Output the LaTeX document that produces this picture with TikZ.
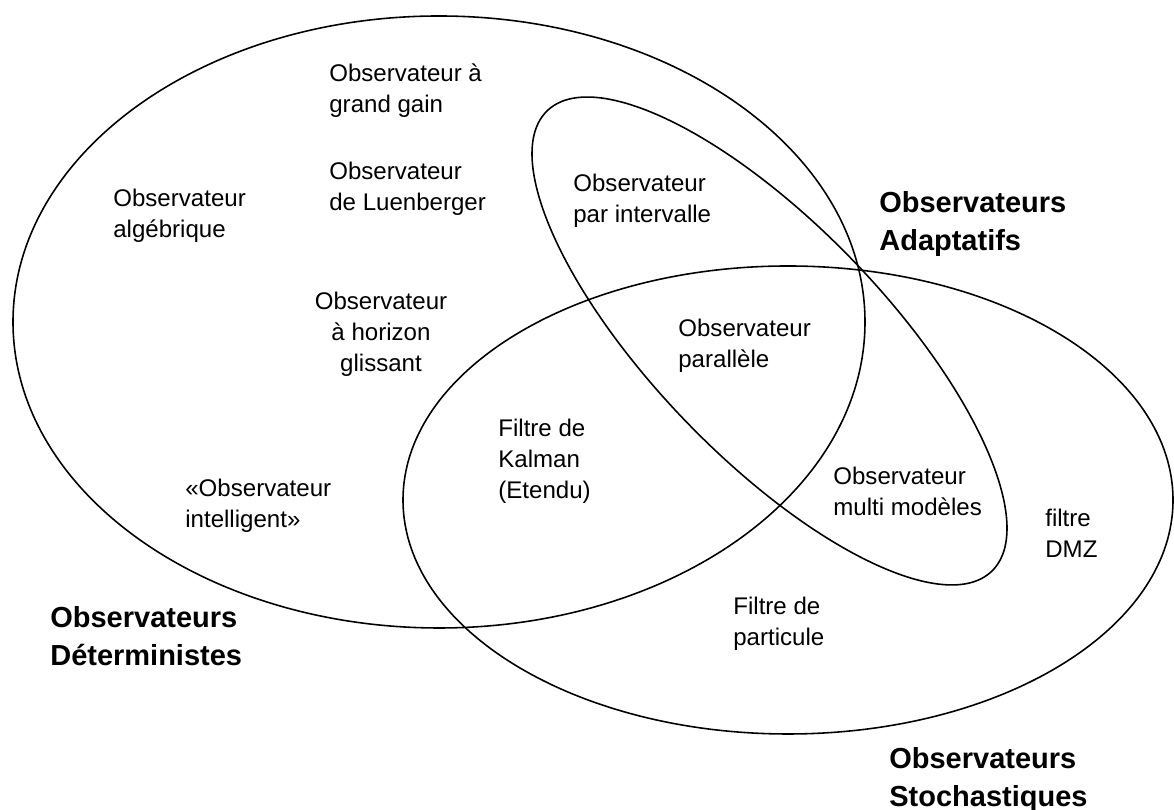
\documentclass[tikz,border=0pt]{standalone}
\usepackage{fontspec}
\setmainfont{Liberation Sans}
\newcommand{\lblL}[1]{\begin{tabular}[t]{@{}l@{}}#1\end{tabular}}
\newcommand{\lblC}[1]{\begin{tabular}[t]{@{}c@{}}#1\end{tabular}}
\begin{document}
\begin{tikzpicture}[x=0.02cm,y=0.02cm,
  venn/.style={draw=black, line width=0.9pt},
  lab/.style={anchor=base west, inner sep=0pt, font=\fontsize{13.7pt}{17.6pt}\selectfont},
  labc/.style={anchor=base, inner sep=0pt, font=\fontsize{13.7pt}{17.6pt}\selectfont},
  ttl/.style={anchor=base west, inner sep=0pt, font=\bfseries\fontsize{16.5pt}{21.6pt}\selectfont}]
\useasboundingbox (0,0) rectangle (1174,810);
% ellipses
\draw[venn] (439,488) ellipse [x radius=426, y radius=306];
\draw[venn] (788,310) ellipse [x radius=385, y radius=234];
\draw[venn, rotate around={-46:(769.5,469)}] (769.5,469) ellipse [x radius=320, y radius=116];
% labels
\node[lab] (gg) at (329,728) {\lblL{Observateur à\\grand gain}};
\node[lab] (lu) at (329,630) {\lblL{Observateur\\de Luenberger}};
\node[lab] (alg) at (113,603) {\lblL{Observateur\\algébrique}};
\node[labc] (hor) at (381,500) {\lblC{Observateur\\à horizon\\glissant}};
\node[lab] (int) at (573,618) {\lblL{Observateur\\par intervalle}};
\node[lab] (par) at (678,473) {\lblL{Observateur\\parallèle}};
\node[lab] (kal) at (498,373) {\lblL{Filtre de\\Kalman\\(Etendu)}};
\node[lab] (intel) at (185,313) {\lblL{«Observateur\\intelligent»}};
\node[lab] (mm) at (833,325) {\lblL{Observateur\\multi modèles}};
\node[lab] (dmz) at (1045,283) {\lblL{filtre\\DMZ}};
\node[lab] (part) at (733,195) {\lblL{Filtre de\\particule}};
\node[ttl] (tA) at (879,597) {\lblL{Observateurs\\Adaptatifs}};
\node[ttl] (tD) at (50,182) {\lblL{Observateurs\\Déterministes}};
\node[ttl] (tS) at (889,41) {\lblL{Observateurs\\Stochastiques}};
\end{tikzpicture}
\end{document}
